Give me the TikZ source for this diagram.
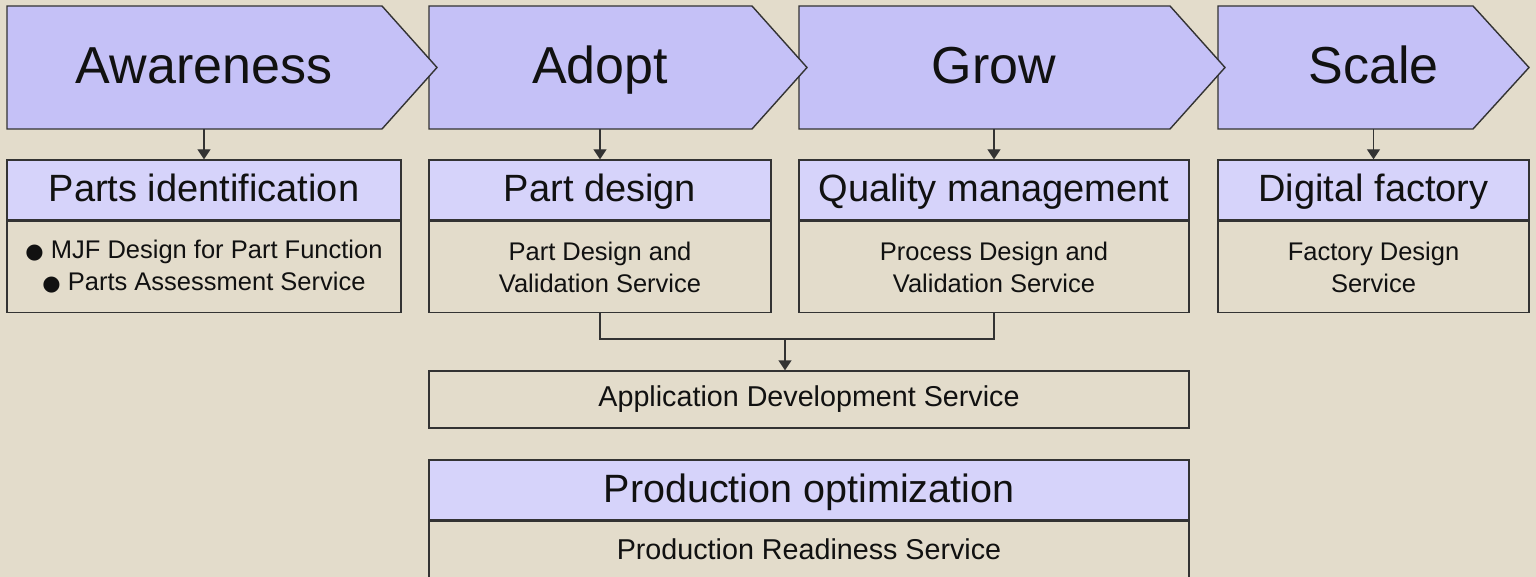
\documentclass[tikz,border=0pt]{standalone}
\usepackage{fontspec}
\setmainfont{Liberation Sans}
\newfontfamily\symfont{DejaVu Sans}
\usetikzlibrary{arrows.meta, positioning, calc}
\definecolor{Sand}{HTML}{E3DCCB}
\definecolor{Lilac}{HTML}{C5C1F7}
\definecolor{PaleLilac}{HTML}{D6D3FA}
\definecolor{LineGray}{HTML}{333333}
\definecolor{InkText}{HTML}{111111}
\newcommand{\bigtxt}{\fontsize{52}{60}\selectfont}
\newcommand{\headtxt}{\fontsize{38}{44}\selectfont}
\newcommand{\bodytxt}{\fontsize{25.5}{32}\selectfont}
\newcommand{\widetxt}{\fontsize{28.7}{34}\selectfont}
\newcommand{\dotmark}{{\symfont\fontsize{21}{32}\selectfont ●}}

\begin{document}
\begin{tikzpicture}[x=1pt, y=-1pt,
    chevron/.style={draw=LineGray, fill=Lilac, line width=1.4pt, line join=miter},
    stagetxt/.style={anchor=base, font=\bigtxt, text=InkText},
    headbox/.style={draw=LineGray, fill=PaleLilac, line width=1.4pt, minimum height=60pt,
      inner sep=0pt, text height=26pt, text depth=2pt, font=\headtxt, text=InkText},
    bodybox/.style={draw=LineGray, line width=1.4pt, inner sep=0pt, align=center,
      font=\bodytxt, text=InkText, below=0pt of #1},
    arr/.style={draw=LineGray, line width=1.4pt, -{Triangle[width=13pt,length=10pt]}},
    link/.style={draw=LineGray, line width=1.4pt}]

  \fill[Sand] (0,0) rectangle (1536,577);
  \useasboundingbox (0,0) rectangle (1536,577);

  % stage chevrons, right to left so each tip lies on top
  \foreach \lx/\fx/\tx in {1218/1473/1529, 799/1170/1225, 429/752/807, 7/382/437}
    \draw[chevron] (\lx,6) -- (\fx,6) -- (\tx,67.5) -- (\fx,129) -- (\lx,129) -- cycle;

  \node[stagetxt] (aw) at (204,84) {Awareness};
  \node[stagetxt] (ad) at (600,84) {Adopt};
  \node[stagetxt] (gr) at (994,84) {Grow};
  \node[stagetxt] (sc) at (1373.5,84) {Scale};

  % service boxes
  \node[headbox, minimum width=394pt] (pid) at (204,190) {Parts identification};
  \node[bodybox=pid, minimum width=394pt, minimum height=91pt] (pidb)
    {\dotmark~MJF Design for Part Function\\\dotmark~Parts Assessment Service};

  \node[headbox, minimum width=342pt] (pd) at (600,190) {Part design};
  \node[bodybox=pd, minimum width=342pt, minimum height=91pt] (pdb)
    {Part Design and\\Validation Service};

  \node[headbox, minimum width=390pt] (qm) at (994,190) {Quality management};
  \node[bodybox=qm, minimum width=390pt, minimum height=91pt] (qmb)
    {Process Design and\\Validation Service};

  \node[headbox, minimum width=311pt] (df) at (1373.5,190) {Digital factory};
  \node[bodybox=df, minimum width=311pt, minimum height=91pt] (dfb)
    {Factory Design\\Service};

  \node[bodybox=qmb, minimum width=760pt, minimum height=57pt, anchor=center,
    font=\widetxt] (app) at (809,399.5) {Application Development Service};

  \node[headbox, minimum width=760pt, font=\fontsize{39.5}{44}\selectfont] (po)
    at (809,490) {Production optimization};
  \node[bodybox=po, minimum width=760pt, minimum height=56pt, font=\widetxt] (pob)
    {Production Readiness Service};

  % connectors
  \coordinate (awfoot) at (204,129);
  \coordinate (adfoot) at (600,129);
  \coordinate (grfoot) at (994,129);
  \coordinate (scfoot) at (1373.5,129);
  \coordinate (merge) at (785,339);
  \draw[arr] (awfoot) -- (pid.north);
  \draw[arr] (adfoot) -- (pd.north);
  \draw[arr] (grfoot) -- (qm.north);
  \draw[arr] (scfoot) -- (df.north);
  \draw[link] (pdb.south) |- (merge) -| (qmb.south);
  \draw[arr] (merge) -- (merge |- app.north);
\end{tikzpicture}
\end{document}
